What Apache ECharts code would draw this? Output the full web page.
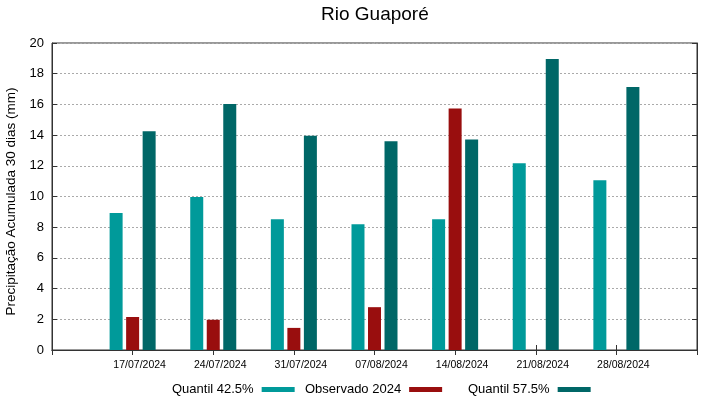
<!DOCTYPE html>
<html>
<head>
<meta charset="utf-8">
<script src="https://cdn.jsdelivr.net/npm/echarts@6/dist/echarts.min.js"></script>
<style>
  html, body { margin: 0; padding: 0; background: #fff; }
  #chart { width: 719px; height: 399px; }
</style>
</head>
<body>
<div id="chart"></div>
<script>
// padded with empty slots so the dates sit on ticks 1..7 of an 8-unit axis
var dates = ['', '17/07/2024', '24/07/2024', '31/07/2024', '07/08/2024', '14/08/2024', '21/08/2024', '28/08/2024', ''];
var quantil425 = [null, 8.92, 9.97, 8.52, 8.19, 8.52, 12.17, 11.06, null];
var observado2024 = [null, 2.15, 1.97, 1.44, 2.79, 15.74, null, null, null];
var quantil575 = [null, 14.25, 16.03, 13.95, 13.6, 13.72, 18.96, 17.13, null];
var seriesNames = ['Quantil 42.5%', 'Observado 2024', 'Quantil 57.5%'];
var yTicks = { min: 0, max: 20, interval: 2 };

var colors = {
    low: '#009a9a',
    obs: '#990e0e',
    high: '#006767',
    text: '#000',
    frame: '#333',
    grid: '#aaa'
};

var font = 'Liberation Sans, Arial, sans-serif';

/**
 * One legend box per entry, gnuplot-style: label first, sample after it.
 * @param {string} name
 * @param {number} left
 * @returns {object}
 */
function makeLegend(name, left) {
    return {
        data: [name],
        left: left,
        top: 383,
        padding: 0,
        align: 'right',
        icon: 'rect',
        itemWidth: 33,
        itemHeight: 5,
        textStyle: { fontFamily: font, fontSize: 13, color: colors.text, padding: [0, 3, 0, 0] }
    };
}

var chart = echarts.init(document.getElementById('chart'));

chart.setOption({
    animation: false,
    textStyle: { fontFamily: font, color: colors.text },
    title: {
        text: 'Rio Guaporé',
        left: 321,
        top: 5,
        padding: 0,
        textStyle: { fontFamily: font, fontSize: 19, fontWeight: 'normal', color: colors.text }
    },
    legend: [
        makeLegend(seriesNames[0], 172),
        makeLegend(seriesNames[1], 305),
        makeLegend(seriesNames[2], 468)
    ],
    grid: {
        left: 52, right: 22, top: 43, bottom: 49,
        containLabel: false,
        outerBoundsMode: 'none',
        show: true, borderColor: colors.frame, borderWidth: 1
    },
    xAxis: [
        {
            type: 'category',
            data: dates,
            boundaryGap: false,
            axisLine: { lineStyle: { color: colors.frame } },
            axisTick: { inside: true, length: 5, lineStyle: { color: colors.frame } },
            axisLabel: { color: colors.text, fontSize: 10.5, margin: 10, interval: 0, padding: [0, 0, 0, 14] },
            splitLine: { show: false }
        },
        {
            type: 'category',
            data: dates,
            boundaryGap: false,
            position: 'top',
            axisLine: { lineStyle: { color: colors.frame } },
            axisTick: { inside: true, length: 5, lineStyle: { color: colors.frame } },
            axisLabel: { show: false },
            splitLine: { show: false }
        }
    ],
    yAxis: [
        {
            type: 'value',
            min: yTicks.min,
            max: yTicks.max,
            interval: yTicks.interval,
            name: 'Precipitação Acumulada 30 dias (mm)',
            nameLocation: 'middle',
            nameRotate: 90,
            nameGap: 30,
            nameTextStyle: { fontFamily: font, fontSize: 13.5, color: colors.text, padding: [0, 10, 0, 0] },
            axisLine: { show: true, lineStyle: { color: colors.frame } },
            axisTick: { show: true, inside: true, length: 5, lineStyle: { color: colors.frame } },
            axisLabel: { color: colors.text, fontSize: 13, margin: 8 },
            splitLine: { lineStyle: { color: colors.grid, type: [2, 2], width: 1 } }
        },
        {
            type: 'value',
            min: yTicks.min,
            max: yTicks.max,
            interval: yTicks.interval,
            position: 'right',
            axisLine: { show: true, lineStyle: { color: colors.frame } },
            axisTick: { show: true, inside: true, length: 5, lineStyle: { color: colors.frame } },
            axisLabel: { show: false },
            splitLine: { show: false }
        }
    ],
    series: [
        {
            type: 'bar',
            name: seriesNames[0],
            data: quantil425,
            barWidth: 13,
            barGap: '27%',
            itemStyle: { color: colors.low }
        },
        {
            type: 'bar',
            name: seriesNames[1],
            data: observado2024,
            barWidth: 13,
            barGap: '27%',
            itemStyle: { color: colors.obs }
        },
        {
            type: 'bar',
            name: seriesNames[2],
            data: quantil575,
            barWidth: 13,
            barGap: '27%',
            itemStyle: { color: colors.high }
        }
    ]
});
</script>
</body>
</html>
